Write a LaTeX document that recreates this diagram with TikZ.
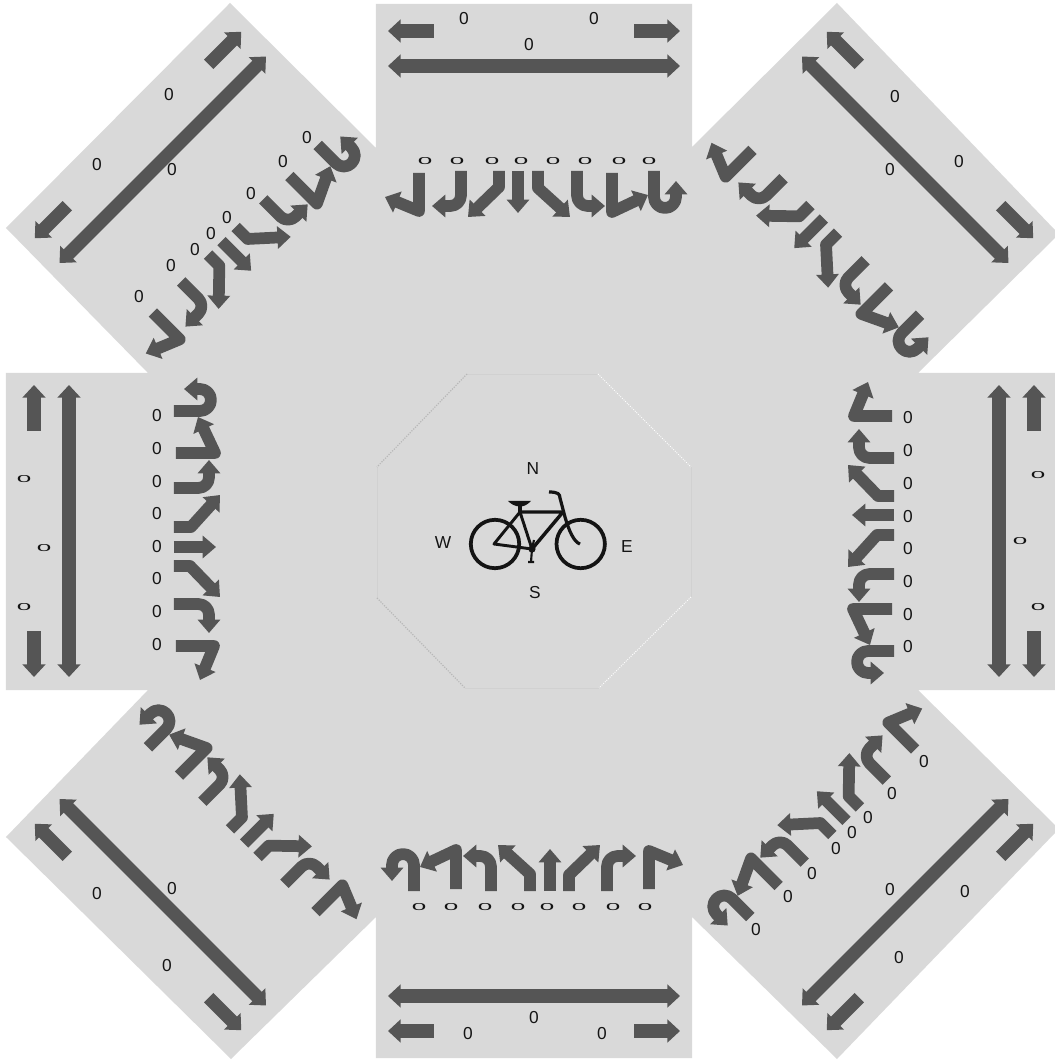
\documentclass[tikz,border=0pt]{standalone}
\usepackage{fontspec}
\setmainfont{Liberation Sans}
\usetikzlibrary{arrows.meta}
\definecolor{roadgray}{HTML}{D9D9D9}
\definecolor{markgray}{HTML}{555555}
\definecolor{inkblack}{HTML}{141414}
\newcommand{\flatzero}{\scalebox{1.5}[0.58]{0}}
\tikzset{
  lanearrow/.style={markgray, line width=10pt, {Triangle[width=17pt,length=9.5pt]}-{Triangle[width=17pt,length=9.5pt]}},
  shortarrow/.style={markgray, line width=10pt, -{Triangle[width=17pt,length=9.5pt]}},
  turnarrow/.style={markgray, line width=8.8pt, -{Triangle[width=16.5pt,length=10pt]}},
  bike/.style={inkblack, line width=2.8pt},
  zero/.style={text=inkblack, inner sep=0pt}
}
\begin{document}
\begin{tikzpicture}[x=0.75pt, y=0.75pt, line join=round, font=\fontsize{13}{15}\selectfont]
  \useasboundingbox (-534,-529) rectangle (521,531);
  % road surface, in pixel coordinates of the sheet
  \begin{scope}[y=-0.75pt, shift={(-534,-531)}]
    \fill[roadgray] (376,4)--(692,4)--(692,147)--(837,3)--(1055,230)--(1055,238)--(918,373)--(1055,373)
      --(1055,690)--(918,690)--(1055,825)--(1055,833)--(837,1059)--(692,917)--(692,1058)--(376,1058)
      --(376,917)--(231,1059)--(6,837)--(148,690)--(6,690)--(6,373)--(148,373)--(6,228)--(230,3)--(376,148)--cycle;
    % faint octagon
    \draw[line width=0.4pt, color=black!18] (467,374)--(598,374) (691,467)--(691,597) (599,688)--(465,688) (377,598)--(377,467);
    \draw[line width=0.9pt, color=black!28, densely dotted] (467,374)--(377,467);
    \draw[line width=0.9pt, color=black!28, densely dotted] (377,598)--(465,688);
    \draw[line width=0.7pt, color=white, densely dotted] (598,374)--(691,467);
    \draw[line width=0.7pt, color=white, densely dotted] (691,597)--(599,688);
    % labels
    \foreach \x/\y in {464/19, 594/19, 529/45, 534/1018, 468/1034, 602/1034,
      157/416, 157/449, 157/482, 157/514, 157/547, 157/579, 157/612, 157/645,
      908/418, 908/451, 908/484, 908/517, 908/549, 908/582, 908/615, 908/647,
      169/95, 97/165, 172/170, 307/138, 283/162, 251/194, 227/218, 211/234, 195/250, 171/266, 139/297,
      895/97, 959/162, 890/170,
      924/762, 892/794, 868/818, 852/833, 836/849, 812/874, 788/897, 756/930, 890/890, 965/892, 899/958,
      97/894, 172/889, 167/966}
      \node[zero] at (\x,\y) {0};
    \foreach \x/\y in {425/161, 457/161, 492/161, 521/161, 553/161, 585/161, 619/161, 649/161,
      419/907, 451/907, 485/907, 518/907, 547/907, 579/907, 613/907, 645/907,
      24/479, 24/607, 44/548, 1038/475, 1038/607, 1020/541}
      \node[zero] at (\x,\y) {\flatzero};
  \end{scope}
  % the same set of marks on all eight arms
  \foreach \ang/\dl/\dt in {0/0/0, 45/60/66, 90/0/0, 135/60/66, 180/0/0, 225/60/66, 270/0/0, 315/60/66} {
    \begin{scope}[rotate=\ang]
      \draw[lanearrow] (-146,465+\dl)--(146,465+\dl);
      \draw[shortarrow] (-100,500+\dl)--(-146,500+\dl);
      \draw[shortarrow] (100,500+\dl)--(146,500+\dl);
      \begin{scope}[shift={(0,\dt)}]
        \draw[turnarrow] (-115,358)--(-115,320)--(-149,334);
        \draw[turnarrow, rounded corners=8pt] (-73,360)--(-73,325)--(-102,325);
        \draw[turnarrow] (-35,360)--(-35,344)--(-66,314);
        \draw[turnarrow] (-16,360)--(-16,318);
        \draw[turnarrow] (4,360)--(4,343)--(36,314);
        \draw[turnarrow, rounded corners=8pt] (43,360)--(43,325)--(71,325);
        \draw[turnarrow] (78,358)--(78,319)--(114,336);
        \draw[turnarrow] (120,360)--(120,334) arc[start angle=180, end angle=360, radius=11]--(142,350);
      \end{scope}
    \end{scope}
  }
  % bicycle
  \draw[bike] (-39,-13) circle (24.2);
  \draw[bike] (46.7,-13) circle (24.2);
  \draw[inkblack, line width=2.2pt] (-40,-13)--(-14,19)--(-2,-18)--cycle;
  \draw[inkblack, line width=2.6pt] (-14,19)--(29,19)--(-2,-18);
  \draw[inkblack, line width=2.4pt] (-14,19)--(-14,27);
  \fill[inkblack] (-26,30)--(-3,30) .. controls (-7,26) and (-10,24.5) .. (-14,24.5) .. controls (-19,24.5) and (-23,27) .. (-26,30)--cycle;
  \draw[inkblack, line width=2.4pt] (46,-13) .. controls (40,-11) and (35,0) .. (31,14)--(26,33) .. controls (26,37) and (24,39) .. (15,39);
  \fill[inkblack] (-2,-18) circle (3.6);
  \draw[inkblack, line width=1.6pt] (-2,-18)--(-3,-31) (-6,-31)--(0,-31) (-2,-18)--(0,-9);
  % compass letters
  \node[zero] (north) at (-1,62) {N};
  \node[zero] (south) at (1,-62) {S};
  \node[zero] (west) at (-91,-12) {W};
  \node[zero] (east) at (93,-16) {E};
\end{tikzpicture}
\end{document}
